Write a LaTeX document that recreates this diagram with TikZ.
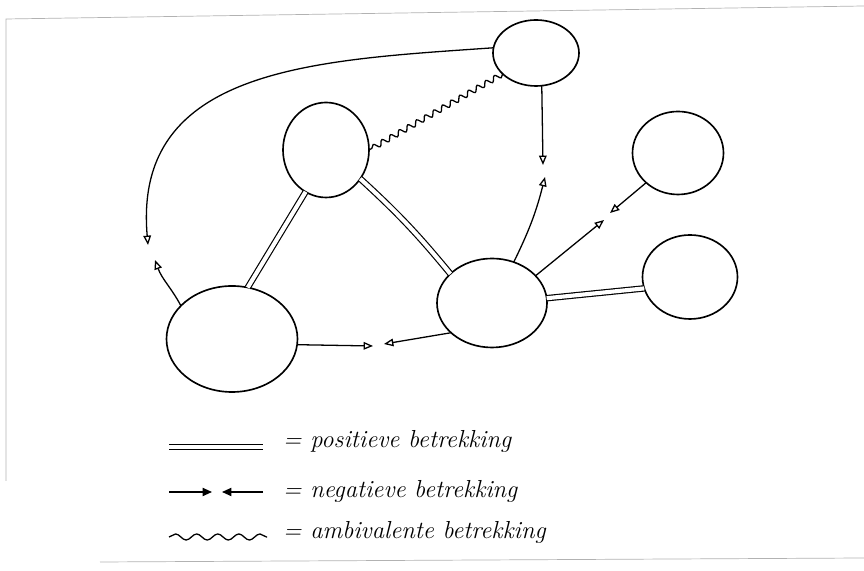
\documentclass[tikz,border=0pt]{standalone}
\usepackage{amsmath}
\usetikzlibrary{positioning,shapes.geometric,arrows.meta,decorations.pathmorphing}
\tikzset{
  pers/.style={draw, ellipse, inner sep=0pt, outer sep=0pt, line width=1.4pt},
  posrel/.style={double, double distance=3.5pt, line width=1pt},
  negrel/.style={-{Triangle[open,length=8pt,width=6.5pt]}, line width=1.1pt},
  ambrel/.style={decorate, decoration={snake, amplitude=2.3pt, segment length=8.5pt}, line width=1.1pt},
  lbl/.style={anchor=base west, inner sep=0pt, font=\fontsize{21}{25}\selectfont\itshape}
}
\begin{document}
\begin{tikzpicture}[x=0.03cm, y=0.03cm]
\useasboundingbox (0,0) rectangle (864,571);
\draw[gray!60, line width=0.6pt] (6,90) -- (6,552) -- (864,565);
\draw[gray!60, line width=0.6pt] (100,9) -- (864,13);

\node[pers, minimum width=2.58cm, minimum height=1.98cm] (top) at (536,518) {};
\node[pers, minimum width=2.58cm, minimum height=2.85cm] (mid) at (326,421) {};
\node[pers, minimum width=2.73cm, minimum height=2.49cm] (rtop) at (678,418) {};
\node[pers, minimum width=3.93cm, minimum height=3.18cm] (left) at (232,232) {};
\node[pers, minimum width=3.30cm, minimum height=2.67cm] (ctr) at (492,268) {};
\node[pers, minimum width=2.85cm, minimum height=2.52cm] (rbot) at (690,294) {};

\coordinate (n1) at (148,326);
\coordinate (n2) at (155,311);
\coordinate (n3) at (543,406);
\coordinate (n4) at (545,394);
\coordinate (n5) at (610,358);
\coordinate (n6) at (604,351);
\coordinate (n7) at (373,225);
\coordinate (n8) at (384,227);

\draw[negrel] (top.173) to [out=184, in=95, looseness=1.15] (n1);
\draw[negrel] (left.147) to [out=118, in=290] (n2);
\draw[negrel] (top.280) -- (n3);
\draw[negrel] (ctr.62) to [bend right=6] (n4);
\draw[negrel] (rtop.223) -- (n5);
\draw[negrel] (ctr.32) -- (n6);
\draw[negrel] (left.355) -- (n7);
\draw[negrel] (ctr.216) -- (n8);

\draw[posrel] (mid.244) -- (left.73);
\draw[posrel] (mid.320) to [bend left=4] (ctr.145);
\draw[posrel] (ctr.5) -- (rbot.194);
\draw[ambrel] (top.212) -- (mid.east);

\coordinate (p1) at (169,124);
\coordinate (p2) at (263,124);
\coordinate (q1) at (169,79);
\coordinate (q2) at (212,79);
\coordinate (q3) at (263,79);
\coordinate (q4) at (222,79);
\coordinate (r1) at (169,34);
\coordinate (r2) at (267,34);
\draw[posrel] (p1) -- (p2);
\draw[negrel, -{Triangle[length=8pt,width=7pt]}] (q1) -- (q2);
\draw[negrel, -{Triangle[length=8pt,width=7pt]}] (q3) -- (q4);
\draw[ambrel, decoration={snake, amplitude=2.6pt, segment length=18pt}] (r1) -- (r2);
\node[lbl] (lpos) at (283,123) {= positieve betrekking};
\node[lbl] (lneg) at (283,73) {= negatieve betrekking};
\node[lbl] (lamb) at (283,32) {= ambivalente betrekking};
\end{tikzpicture}
\end{document}
